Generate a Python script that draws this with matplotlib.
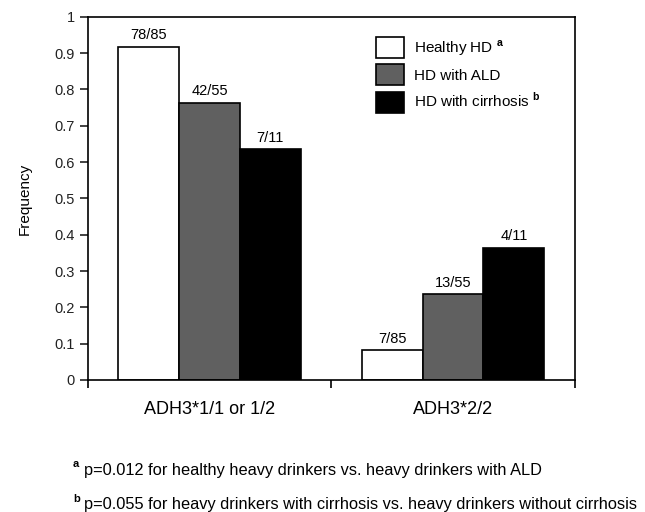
import matplotlib
matplotlib.use("Agg")
from matplotlib import pyplot as plt
import numpy as np

plt.rcParams["font.family"] = ["Liberation Sans", "DejaVu Sans"]
plt.rcParams["mathtext.fontset"] = "custom"
plt.rcParams["mathtext.rm"] = "Liberation Sans"
plt.rcParams["mathtext.bf"] = "Liberation Sans:bold"

genotypes = ["ADH3*1/1 or 1/2", "ADH3*2/2"]
series = ["Healthy HD $^{\\mathbf{a}}$", "HD with ALD", "HD with cirrhosis $^{\\mathbf{b}}$"]
colors = ["white", "#606060", "black"]
freq = [
    [0.918, 0.082],  # healthy HD
    [0.764, 0.236],  # HD with ALD
    [0.636, 0.364],  # HD with cirrhosis
]
counts = [
    ["78/85", "7/85"],
    ["42/55", "13/55"],
    ["7/11", "4/11"],
]
footnotes = [
    ("a", "p=0.012 for healthy heavy drinkers vs. heavy drinkers with ALD"),
    ("b", "p=0.055 for heavy drinkers with cirrhosis vs. heavy drinkers without cirrhosis"),
]

fig = plt.figure(figsize=(6.45, 5.12), dpi=100)
ax = fig.add_axes([0.136, 0.258, 0.755, 0.709])

centers = np.arange(len(genotypes)) + 0.5
width = 0.25
for i, (name, col) in enumerate(zip(series, colors)):
    x = centers + (i - 1) * width
    bars = ax.bar(x, freq[i], width, color=col, edgecolor="black", linewidth=1.2, label=name)
    for b, txt in zip(bars, counts[i]):
        ax.text(b.get_x() + b.get_width() / 2, b.get_height() + 0.012, txt,
                ha="center", va="bottom", fontsize=10.5)

ax.set_xlim(0, 2)
ax.set_ylim(0, 1)
ax.set_yticks(np.arange(0, 1.01, 0.1))
ax.set_yticklabels(["0"] + [f"{v:.1f}" for v in np.arange(0.1, 0.95, 0.1)] + ["1"])
ax.set_xticks([0, 1, 2])
ax.set_xticklabels([])
ax.set_xticks(centers, minor=True)
ax.set_xticklabels(genotypes, minor=True, fontsize=13)
ax.tick_params(axis="x", which="minor", length=0, pad=15)
ax.tick_params(axis="x", which="major", direction="out", length=6, width=1.2)
ax.tick_params(axis="y", direction="out", length=6, width=1.2, labelsize=10.5, colors="#222222")
for s in ax.spines.values():
    s.set_linewidth(1.2)
ax.set_ylabel("Frequency", fontsize=11, labelpad=16)

ax.legend(loc="upper left", bbox_to_anchor=(0.593, 0.945), frameon=False, fontsize=11,
          borderpad=0, borderaxespad=0,
          handlelength=1.83, handleheight=1.76, labelspacing=0.4, handletextpad=0.65)

for k, (sup, txt) in enumerate(footnotes):
    y = [0.082, 0.014][k]
    fig.text(0.113, y + 0.012, sup, fontsize=8, fontweight="bold", va="center")
    fig.text(0.131, y, txt, fontsize=11.8, va="center")

fig.savefig("out.png", dpi=100)
